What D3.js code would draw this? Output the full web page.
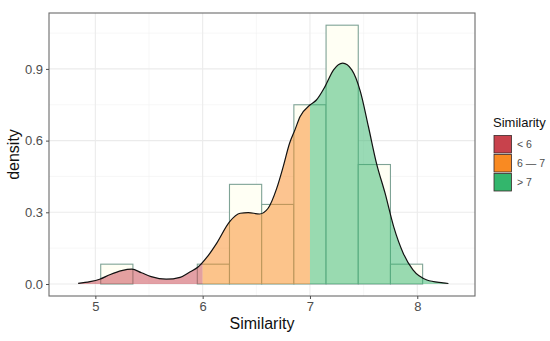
<!DOCTYPE html>
<html>
<head>
<meta charset="utf-8">
<script src="https://cdn.jsdelivr.net/npm/d3@7"></script>
<style>
  body { margin: 0; background: #fff; }
  svg { display: block; font-family: "Liberation Sans", Arial, sans-serif; }
</style>
</head>
<body>
<svg id="chart" width="550" height="341"></svg>
<script>
// ---- data ----
const binStart = [4.75, 5.05, 5.35, 5.65, 5.95, 6.25, 6.55, 6.85, 7.15, 7.45, 7.75, 8.05];
const binDensity = [0, 0.083, 0, 0, 0.083, 0.417, 0.333, 0.75, 1.083, 0.5, 0.083, 0];
const binWidth = 0.3;

const densX = [4.84, 4.95, 5.04, 5.14, 5.245, 5.34, 5.43, 5.52, 5.66, 5.79, 5.88, 5.96, 6.04, 6.13, 6.25, 6.35, 6.425, 6.53, 6.61, 6.69, 6.75, 6.81, 6.86, 6.907, 7.0, 7.06, 7.14, 7.22, 7.305, 7.39, 7.47, 7.545, 7.62, 7.70, 7.78, 7.87, 7.96, 8.09, 8.24, 8.29];
const densY = [0.003, 0.01, 0.02, 0.04, 0.056, 0.062, 0.047, 0.031, 0.02, 0.028, 0.05, 0.072, 0.112, 0.17, 0.26, 0.296, 0.299, 0.293, 0.317, 0.40, 0.49, 0.589, 0.645, 0.70, 0.749, 0.77, 0.826, 0.896, 0.924, 0.896, 0.805, 0.658, 0.505, 0.38, 0.24, 0.128, 0.059, 0.017, 0.005, 0.002];

const groupLabels = ["< 6", "6 \u2014 7", "> 7"];
const groupBreaks = [4.5, 6, 7, 8.6];
const groupColors = ["#c8424c", "#f98a22", "#33b66c"];

const xTicks = [5, 6, 7, 8];
const xMinor = [5.5, 6.5, 7.5];
const yTicks = [0.0, 0.3, 0.6, 0.9];
const yMinor = [0.15, 0.45, 0.75, 1.05];

// ---- layout ----
const svg = d3.select("#chart");
const P = { left: 49, top: 13, right: 475, bottom: 296 };
const x = d3.scaleLinear().domain([4.568, 8.538]).range([P.left, P.right]);
const y = d3.scaleLinear().domain([-0.0502, 1.134]).range([P.bottom, P.top]);

// panel background & grid
const grid = svg.append("g");
grid.selectAll(".gxm").data(xMinor).join("line")
  .attr("x1", d => x(d)).attr("x2", d => x(d)).attr("y1", P.top).attr("y2", P.bottom)
  .attr("stroke", "#f2f2f2").attr("stroke-width", 0.6);
grid.selectAll(".gym").data(yMinor).join("line")
  .attr("y1", d => y(d)).attr("y2", d => y(d)).attr("x1", P.left).attr("x2", P.right)
  .attr("stroke", "#f2f2f2").attr("stroke-width", 0.6);
grid.selectAll(".gx").data(xTicks).join("line")
  .attr("x1", d => x(d)).attr("x2", d => x(d)).attr("y1", P.top).attr("y2", P.bottom)
  .attr("stroke", "#ebebeb").attr("stroke-width", 1.1);
grid.selectAll(".gy").data(yTicks).join("line")
  .attr("y1", d => y(d)).attr("y2", d => y(d)).attr("x1", P.left).attr("x2", P.right)
  .attr("stroke", "#ebebeb").attr("stroke-width", 1.1);

// histogram
svg.append("g").selectAll("rect").data(binStart).join("rect")
  .attr("x", (d) => x(d))
  .attr("width", x(binWidth) - x(0))
  .attr("y", (d, i) => y(binDensity[i]))
  .attr("height", (d, i) => y(0) - y(binDensity[i]))
  .attr("fill", "#fffff4")
  .attr("stroke", "#7fa396")
  .attr("stroke-width", 1.1);

// density
const pts = densX.map((d, i) => [d, densY[i]]);
const area = d3.area().x(d => x(d[0])).y0(y(0)).y1(d => y(d[1])).curve(d3.curveMonotoneX);
const line = d3.line().x(d => x(d[0])).y(d => y(d[1])).curve(d3.curveMonotoneX);

const defs = svg.append("defs");
groupColors.forEach((c, i) => {
  defs.append("clipPath").attr("id", "clip" + i)
    .append("rect")
    .attr("x", x(groupBreaks[i])).attr("width", x(groupBreaks[i + 1]) - x(groupBreaks[i]))
    .attr("y", P.top).attr("height", P.bottom - P.top);
  svg.append("path").datum(pts)
    .attr("d", area)
    .attr("clip-path", "url(#clip" + i + ")")
    .attr("fill", c).attr("fill-opacity", 0.5);
});
svg.append("path").datum(pts).attr("d", line)
  .attr("fill", "none").attr("stroke", "#111").attr("stroke-width", 1.2);

// panel border
svg.append("rect").attr("x", P.left).attr("y", P.top)
  .attr("width", P.right - P.left).attr("height", P.bottom - P.top)
  .attr("fill", "none").attr("stroke", "#6b6b6b").attr("stroke-width", 1.1);

// axes
const xAxis = svg.append("g").attr("transform", `translate(0,${P.bottom})`)
  .call(d3.axisBottom(x).tickValues(xTicks).tickFormat(d3.format("d")).tickSize(3).tickPadding(3));
const yAxis = svg.append("g").attr("transform", `translate(${P.left},0)`)
  .call(d3.axisLeft(y).tickValues(yTicks).tickFormat(d3.format(".1f")).tickSize(3).tickPadding(3));
[xAxis, yAxis].forEach(a => {
  a.select(".domain").remove();
  a.selectAll(".tick line").attr("stroke", "#4d4d4d").attr("stroke-width", 1);
  a.selectAll(".tick text").attr("fill", "#4d4d4d").style("font-size", "13px")
    .style("font-family", "'Liberation Sans', Arial, sans-serif");
});

// axis titles
svg.append("text").attr("x", (P.left + P.right) / 2).attr("y", 329)
  .attr("text-anchor", "middle").style("font-size", "16px").attr("fill", "#111")
  .text("Similarity");
svg.append("text").attr("transform", `translate(19,${(P.top + P.bottom) / 2}) rotate(-90)`)
  .attr("text-anchor", "middle").style("font-size", "16px").attr("fill", "#111")
  .text("density");

// legend
const lg = svg.append("g");
lg.append("text").attr("x", 493).attr("y", 127).style("font-size", "13px").attr("fill", "#111")
  .text("Similarity");
groupLabels.forEach((lab, i) => {
  lg.append("rect").attr("x", 494).attr("y", 135.5 + i * 19).attr("width", 17.5).attr("height", 17.5)
    .attr("fill", groupColors[i]).attr("stroke", "#3a2a2a").attr("stroke-width", 0.8);
  lg.append("text").attr("x", 517).attr("y", 144.5 + i * 19).attr("dy", "0.35em")
    .style("font-size", "10.5px").attr("fill", "#4d4d4d").text(lab);
});
</script>
</body>
</html>
